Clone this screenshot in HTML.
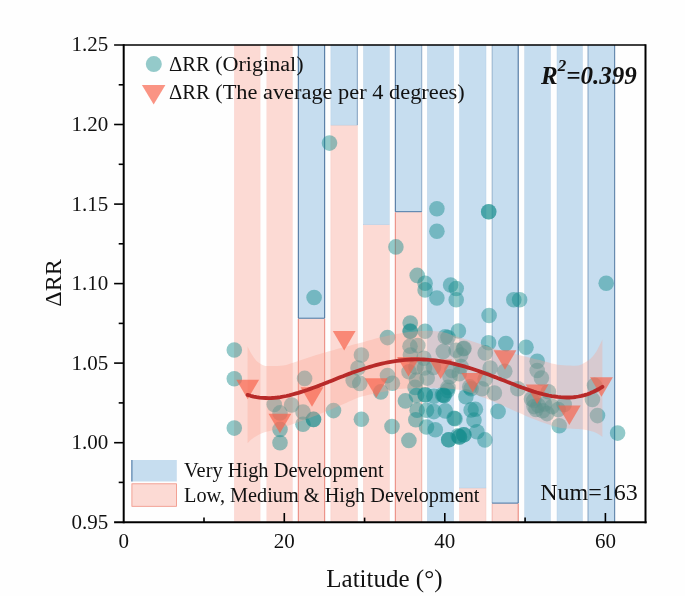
<!DOCTYPE html>
<html><head><meta charset="utf-8"><title>Latitude vs ΔRR</title>
<style>html,body{margin:0;padding:0;background:#fefefe;}svg{display:block;}</style></head>
<body>
<svg width="685" height="596" viewBox="0 0 685 596" font-family="'Liberation Serif', 'Times New Roman', serif" fill="#111">
<rect width="685" height="596" fill="#fefefe"/>
<g id="bars">
<rect x="234.3" y="45.0" width="25.8" height="477.2" fill="#fcdad4" stroke="#f5c2ba" stroke-width="0.24"/>
<rect x="266.8" y="45.0" width="25.6" height="477.2" fill="#fcdad4" stroke="#f5c2ba" stroke-width="0.24"/>
<rect x="298.3" y="318.2" width="26.4" height="204.0" fill="#fcdad4" stroke="#f5c2ba" stroke-width="0.4"/>
<rect x="298.3" y="45.0" width="26.4" height="273.2" fill="#c6ddef" stroke="#aecbe3" stroke-width="0.4"/>
<path d="M298.3,45.0 V318.2" stroke="#34608e" stroke-opacity="1.0" stroke-width="0.9" fill="none"/>
<path d="M324.7,45.0 V318.2" stroke="#34608e" stroke-opacity="1.0" stroke-width="0.9" fill="none"/>
<path d="M298.3,318.2 H324.7" stroke="#3f6f9f" stroke-opacity="1.0" stroke-width="0.9" fill="none"/>
<path d="M298.3,318.8 V522.2" stroke="#e67c6f" stroke-opacity="1.0" stroke-width="0.9" fill="none"/>
<path d="M324.7,318.8 V522.2" stroke="#e67c6f" stroke-opacity="1.0" stroke-width="0.9" fill="none"/>
<rect x="330.9" y="125.1" width="26.4" height="397.1" fill="#fcdad4" stroke="#f5c2ba" stroke-width="0.4"/>
<rect x="330.9" y="45.0" width="26.4" height="80.1" fill="#c6ddef" stroke="#aecbe3" stroke-width="0.4"/>
<rect x="363.5" y="224.8" width="25.8" height="297.4" fill="#fcdad4" stroke="#f5c2ba" stroke-width="0.4"/>
<rect x="363.5" y="45.0" width="25.8" height="179.8" fill="#c6ddef" stroke="#aecbe3" stroke-width="0.4"/>
<rect x="395.3" y="211.7" width="26.5" height="310.5" fill="#fcdad4" stroke="#f5c2ba" stroke-width="0.4"/>
<rect x="395.3" y="45.0" width="26.5" height="166.7" fill="#c6ddef" stroke="#aecbe3" stroke-width="0.4"/>
<path d="M395.3,45.0 V211.7" stroke="#34608e" stroke-opacity="1.0" stroke-width="0.9" fill="none"/>
<path d="M421.8,45.0 V211.7" stroke="#34608e" stroke-opacity="0.45" stroke-width="0.9" fill="none"/>
<path d="M395.3,211.7 H421.8" stroke="#3f6f9f" stroke-opacity="1.0" stroke-width="0.9" fill="none"/>
<path d="M395.3,212.3 V522.2" stroke="#e67c6f" stroke-opacity="1.0" stroke-width="0.9" fill="none"/>
<path d="M421.8,212.3 V522.2" stroke="#e67c6f" stroke-opacity="0.45" stroke-width="0.9" fill="none"/>
<rect x="427.4" y="45.0" width="26.2" height="477.2" fill="#c6ddef" stroke="#aecbe3" stroke-width="0.4"/>
<rect x="459.6" y="488.0" width="26.4" height="34.2" fill="#fcdad4" stroke="#f5c2ba" stroke-width="0.4"/>
<rect x="459.6" y="45.0" width="26.4" height="443.0" fill="#c6ddef" stroke="#aecbe3" stroke-width="0.4"/>
<rect x="492.1" y="503.1" width="26.1" height="19.1" fill="#fcdad4" stroke="#f5c2ba" stroke-width="0.4"/>
<rect x="492.1" y="45.0" width="26.1" height="458.1" fill="#c6ddef" stroke="#aecbe3" stroke-width="0.4"/>
<path d="M492.1,45.0 V503.1" stroke="#34608e" stroke-opacity="0.35" stroke-width="0.9" fill="none"/>
<path d="M518.2,45.0 V503.1" stroke="#34608e" stroke-opacity="1.0" stroke-width="0.9" fill="none"/>
<path d="M492.1,503.1 H518.2" stroke="#3f6f9f" stroke-opacity="1.0" stroke-width="0.9" fill="none"/>
<path d="M492.1,503.7 V522.2" stroke="#e67c6f" stroke-opacity="0.35" stroke-width="0.9" fill="none"/>
<path d="M518.2,503.7 V522.2" stroke="#e67c6f" stroke-opacity="1.0" stroke-width="0.9" fill="none"/>
<rect x="524.7" y="45.0" width="25.7" height="477.2" fill="#c6ddef" stroke="#aecbe3" stroke-width="0.4"/>
<rect x="557.0" y="45.0" width="25.4" height="477.2" fill="#c6ddef" stroke="#aecbe3" stroke-width="0.4"/>
<rect x="588.0" y="45.0" width="26.7" height="477.2" fill="#c6ddef" stroke="#aecbe3" stroke-width="0.4"/>
<path d="M588.0,45.0 V522.2" stroke="#34608e" stroke-opacity="0.5" stroke-width="0.9" fill="none"/>
<path d="M614.7,45.0 V522.2" stroke="#34608e" stroke-opacity="0.9" stroke-width="0.9" fill="none"/>
<path d="M357.3,45.0 V125.1" stroke="#2f5a88" stroke-opacity="0.6" stroke-width="0.8" fill="none"/>
</g>
<g id="dots" fill="#148c8c" fill-opacity="0.46">
<circle cx="234.3" cy="350.0" r="7.8"/>
<circle cx="234.3" cy="378.7" r="7.8"/>
<circle cx="234.3" cy="428.1" r="7.8"/>
<circle cx="274.2" cy="404.4" r="7.8"/>
<circle cx="280.0" cy="412.9" r="7.8"/>
<circle cx="291.6" cy="405.0" r="7.8"/>
<circle cx="280.0" cy="429.4" r="7.8"/>
<circle cx="280.0" cy="442.7" r="7.8"/>
<circle cx="304.6" cy="378.4" r="7.8"/>
<circle cx="303.0" cy="412.0" r="7.8"/>
<circle cx="303.0" cy="424.2" r="7.8"/>
<circle cx="313.5" cy="419.4" r="7.8"/>
<circle cx="313.5" cy="419.4" r="7.8"/>
<circle cx="333.5" cy="410.6" r="7.8"/>
<circle cx="329.5" cy="143.1" r="7.8"/>
<circle cx="314.1" cy="297.5" r="7.8"/>
<circle cx="395.9" cy="246.9" r="7.8"/>
<circle cx="436.9" cy="208.7" r="7.8"/>
<circle cx="436.9" cy="231.2" r="7.8"/>
<circle cx="488.7" cy="211.8" r="7.8"/>
<circle cx="488.7" cy="211.8" r="7.8"/>
<circle cx="606.2" cy="283.2" r="7.8"/>
<circle cx="417.2" cy="275.4" r="7.8"/>
<circle cx="425.1" cy="283.2" r="7.8"/>
<circle cx="425.1" cy="289.9" r="7.8"/>
<circle cx="436.9" cy="298.0" r="7.8"/>
<circle cx="450.6" cy="285.0" r="7.8"/>
<circle cx="456.2" cy="288.5" r="7.8"/>
<circle cx="456.2" cy="299.7" r="7.8"/>
<circle cx="513.8" cy="299.8" r="7.8"/>
<circle cx="519.6" cy="299.8" r="7.8"/>
<circle cx="489.1" cy="315.5" r="7.8"/>
<circle cx="410.2" cy="323.0" r="7.8"/>
<circle cx="410.2" cy="331.0" r="7.8"/>
<circle cx="410.2" cy="331.5" r="7.8"/>
<circle cx="425.1" cy="331.2" r="7.8"/>
<circle cx="458.4" cy="331.0" r="7.8"/>
<circle cx="445.3" cy="336.8" r="7.8"/>
<circle cx="448.0" cy="337.5" r="7.8"/>
<circle cx="387.5" cy="337.6" r="7.8"/>
<circle cx="361.4" cy="355.0" r="7.8"/>
<circle cx="358.0" cy="368.1" r="7.8"/>
<circle cx="353.2" cy="380.5" r="7.8"/>
<circle cx="359.8" cy="383.4" r="7.8"/>
<circle cx="387.5" cy="375.6" r="7.8"/>
<circle cx="392.4" cy="383.2" r="7.8"/>
<circle cx="380.8" cy="391.9" r="7.8"/>
<circle cx="361.4" cy="419.3" r="7.8"/>
<circle cx="392.0" cy="426.5" r="7.8"/>
<circle cx="405.4" cy="400.9" r="7.8"/>
<circle cx="408.9" cy="440.4" r="7.8"/>
<circle cx="410.0" cy="346.2" r="7.8"/>
<circle cx="417.8" cy="345.6" r="7.8"/>
<circle cx="410.4" cy="355.0" r="7.8"/>
<circle cx="423.9" cy="358.3" r="7.8"/>
<circle cx="443.3" cy="351.6" r="7.8"/>
<circle cx="456.1" cy="350.3" r="7.8"/>
<circle cx="464.1" cy="348.3" r="7.8"/>
<circle cx="460.8" cy="355.0" r="7.8"/>
<circle cx="416.5" cy="380.1" r="7.8"/>
<circle cx="427.2" cy="378.1" r="7.8"/>
<circle cx="415.1" cy="387.4" r="7.8"/>
<circle cx="450.0" cy="376.7" r="7.8"/>
<circle cx="448.0" cy="387.4" r="7.8"/>
<circle cx="459.2" cy="373.8" r="7.8"/>
<circle cx="416.5" cy="395.5" r="7.8"/>
<circle cx="425.2" cy="394.8" r="7.8"/>
<circle cx="425.2" cy="394.8" r="7.8"/>
<circle cx="433.9" cy="396.2" r="7.8"/>
<circle cx="444.0" cy="395.5" r="7.8"/>
<circle cx="444.0" cy="395.5" r="7.8"/>
<circle cx="417.1" cy="410.3" r="7.8"/>
<circle cx="415.8" cy="419.7" r="7.8"/>
<circle cx="426.5" cy="410.3" r="7.8"/>
<circle cx="433.9" cy="411.6" r="7.8"/>
<circle cx="445.3" cy="410.9" r="7.8"/>
<circle cx="426.5" cy="427.0" r="7.8"/>
<circle cx="435.3" cy="429.7" r="7.8"/>
<circle cx="454.1" cy="418.3" r="7.8"/>
<circle cx="448.7" cy="439.8" r="7.8"/>
<circle cx="448.7" cy="439.8" r="7.8"/>
<circle cx="458.1" cy="435.8" r="7.8"/>
<circle cx="465.9" cy="396.8" r="7.8"/>
<circle cx="471.1" cy="409.9" r="7.8"/>
<circle cx="475.4" cy="409.2" r="7.8"/>
<circle cx="474.0" cy="420.1" r="7.8"/>
<circle cx="476.9" cy="431.8" r="7.8"/>
<circle cx="484.9" cy="439.9" r="7.8"/>
<circle cx="463.8" cy="434.7" r="7.8"/>
<circle cx="463.8" cy="434.7" r="7.8"/>
<circle cx="459.4" cy="436.9" r="7.8"/>
<circle cx="459.4" cy="436.9" r="7.8"/>
<circle cx="455.0" cy="418.7" r="7.8"/>
<circle cx="498.1" cy="411.4" r="7.8"/>
<circle cx="494.4" cy="393.1" r="7.8"/>
<circle cx="482.0" cy="388.8" r="7.8"/>
<circle cx="471.1" cy="388.8" r="7.8"/>
<circle cx="517.8" cy="388.8" r="7.8"/>
<circle cx="488.6" cy="342.8" r="7.8"/>
<circle cx="505.8" cy="343.6" r="7.8"/>
<circle cx="485.2" cy="352.9" r="7.8"/>
<circle cx="526.0" cy="347.3" r="7.8"/>
<circle cx="537.2" cy="361.2" r="7.8"/>
<circle cx="537.2" cy="370.5" r="7.8"/>
<circle cx="541.4" cy="378.0" r="7.8"/>
<circle cx="504.8" cy="371.3" r="7.8"/>
<circle cx="490.2" cy="368.0" r="7.8"/>
<circle cx="463.4" cy="348.7" r="7.8"/>
<circle cx="485.2" cy="378.9" r="7.8"/>
<circle cx="533.8" cy="400.4" r="7.8"/>
<circle cx="538.2" cy="405.5" r="7.8"/>
<circle cx="542.6" cy="410.7" r="7.8"/>
<circle cx="547.0" cy="413.6" r="7.8"/>
<circle cx="559.2" cy="425.7" r="7.8"/>
<circle cx="548.4" cy="391.7" r="7.8"/>
<circle cx="552.2" cy="406.6" r="7.8"/>
<circle cx="558.2" cy="409.6" r="7.8"/>
<circle cx="564.2" cy="404.5" r="7.8"/>
<circle cx="534.0" cy="406.6" r="7.8"/>
<circle cx="617.6" cy="433.1" r="7.8"/>
<circle cx="597.5" cy="415.6" r="7.8"/>
<circle cx="592.4" cy="399.5" r="7.8"/>
<circle cx="594.5" cy="385.4" r="7.8"/>
<circle cx="409.0" cy="371.7" r="7.8"/>
<circle cx="416.0" cy="367.0" r="7.8"/>
<circle cx="424.5" cy="368.0" r="7.8"/>
<circle cx="433.5" cy="367.5" r="7.8"/>
<circle cx="452.0" cy="370.5" r="7.8"/>
<circle cx="461.0" cy="366.5" r="7.8"/>
<circle cx="469.7" cy="386.9" r="7.8"/>
<circle cx="531.5" cy="399.0" r="7.8"/>
<circle cx="536.0" cy="409.5" r="7.8"/>
<circle cx="544.5" cy="404.0" r="7.8"/>
<circle cx="447.6" cy="390.4" r="7.8"/>
<circle cx="442.5" cy="394.8" r="7.8"/>
</g>
<path d="M247.6,346.5 L250.6,352.4 L253.6,357.2 L256.5,361.0 L259.5,363.3 L262.5,365.0 L265.5,366.0 L268.5,366.1 L271.5,366.0 L274.4,366.0 L277.4,365.9 L280.4,365.7 L283.4,365.5 L286.4,364.9 L289.3,364.0 L292.3,363.0 L295.3,361.9 L298.3,360.9 L301.3,359.9 L304.2,359.0 L307.2,358.0 L310.2,357.1 L313.2,356.1 L316.2,355.1 L319.2,354.2 L322.1,353.3 L325.1,352.4 L328.1,351.6 L331.1,350.7 L334.1,349.9 L337.0,349.1 L340.0,348.3 L343.0,347.5 L346.0,346.7 L349.0,345.9 L352.0,345.1 L354.9,344.3 L357.9,343.5 L360.9,342.7 L363.9,341.9 L366.9,341.0 L369.8,340.2 L372.8,339.4 L375.8,338.6 L378.8,337.8 L381.8,337.1 L384.7,336.4 L387.7,335.7 L390.7,335.0 L393.7,334.4 L396.7,333.9 L399.7,333.4 L402.6,332.9 L405.6,332.5 L408.6,332.1 L411.6,331.9 L414.6,331.6 L417.5,331.3 L420.5,331.1 L423.5,330.9 L426.5,330.8 L429.5,330.8 L432.5,330.9 L435.4,331.2 L438.4,331.4 L441.4,331.8 L444.4,332.4 L447.4,333.3 L450.3,334.4 L453.3,335.5 L456.3,336.5 L459.3,337.4 L462.3,338.3 L465.3,339.2 L468.2,340.1 L471.2,341.0 L474.2,341.9 L477.2,342.9 L480.2,344.0 L483.1,345.1 L486.1,346.1 L489.1,347.1 L492.1,348.0 L495.1,348.9 L498.0,349.7 L501.0,350.5 L504.0,351.2 L507.0,352.0 L510.0,352.7 L513.0,353.4 L515.9,354.2 L518.9,354.9 L521.9,355.7 L524.9,356.5 L527.9,357.2 L530.8,357.9 L533.8,358.7 L536.8,359.4 L539.8,360.1 L542.8,360.9 L545.8,361.7 L548.7,362.5 L551.7,363.4 L554.7,364.1 L557.7,364.7 L560.7,365.1 L563.6,365.3 L566.6,365.5 L569.6,365.6 L572.6,365.7 L575.6,365.7 L578.5,365.4 L581.5,364.4 L584.5,362.8 L587.5,361.0 L590.5,358.8 L593.5,355.5 L596.4,351.5 L599.4,345.8 L602.4,339.5 L602.4,436.8 L599.4,434.7 L596.4,433.0 L593.5,431.8 L590.5,430.9 L587.5,430.2 L584.5,429.7 L581.5,429.3 L578.5,429.1 L575.6,428.9 L572.6,428.7 L569.6,428.6 L566.6,428.4 L563.6,428.2 L560.7,427.9 L557.7,427.3 L554.7,426.5 L551.7,425.6 L548.7,424.6 L545.8,423.5 L542.8,422.4 L539.8,421.4 L536.8,420.3 L533.8,419.1 L530.8,417.9 L527.9,416.7 L524.9,415.4 L521.9,414.1 L518.9,412.8 L515.9,411.5 L513.0,410.2 L510.0,408.8 L507.0,407.4 L504.0,406.1 L501.0,404.8 L498.0,403.5 L495.1,402.2 L492.1,401.0 L489.1,399.8 L486.1,398.6 L483.1,397.4 L480.2,396.4 L477.2,395.3 L474.2,394.2 L471.2,393.1 L468.2,392.0 L465.3,391.1 L462.3,390.3 L459.3,389.7 L456.3,389.4 L453.3,389.1 L450.3,388.8 L447.4,388.5 L444.4,388.3 L441.4,388.1 L438.4,388.0 L435.4,387.8 L432.5,387.8 L429.5,387.7 L426.5,387.7 L423.5,387.7 L420.5,387.8 L417.5,387.9 L414.6,388.1 L411.6,388.2 L408.6,388.4 L405.6,388.6 L402.6,388.8 L399.7,389.0 L396.7,389.3 L393.7,389.8 L390.7,390.3 L387.7,390.9 L384.7,391.5 L381.8,392.1 L378.8,392.7 L375.8,393.3 L372.8,393.9 L369.8,394.5 L366.9,395.2 L363.9,396.0 L360.9,396.8 L357.9,397.8 L354.9,399.0 L352.0,400.2 L349.0,401.5 L346.0,402.9 L343.0,404.2 L340.0,405.4 L337.0,406.7 L334.1,408.0 L331.1,409.4 L328.1,410.6 L325.1,411.9 L322.1,413.1 L319.2,414.3 L316.2,415.4 L313.2,416.6 L310.2,417.7 L307.2,418.8 L304.2,419.9 L301.3,421.0 L298.3,422.1 L295.3,423.2 L292.3,424.2 L289.3,425.2 L286.4,426.3 L283.4,427.2 L280.4,428.2 L277.4,429.0 L274.4,429.7 L271.5,430.5 L268.5,431.2 L265.5,432.1 L262.5,433.1 L259.5,434.3 L256.5,435.9 L253.6,437.7 L250.6,439.9 L247.6,443.2Z" fill="#fca390" fill-opacity="0.32"/>
<g id="tri" fill="#f8624a" fill-opacity="0.68">
<path d="M236.3,379.8 L259.1,379.8 L247.7,399.3Z"/>
<path d="M268.5,413.7 L291.3,413.7 L279.9,433.2Z"/>
<path d="M300.6,387.2 L323.4,387.2 L312.0,406.7Z"/>
<path d="M332.8,331.0 L355.6,331.0 L344.2,350.5Z"/>
<path d="M364.9,378.3 L387.7,378.3 L376.3,397.8Z"/>
<path d="M397.1,357.0 L419.9,357.0 L408.5,376.5Z"/>
<path d="M429.3,359.5 L452.1,359.5 L440.7,379.0Z"/>
<path d="M461.4,373.0 L484.2,373.0 L472.8,392.5Z"/>
<path d="M493.6,350.3 L516.4,350.3 L505.0,369.8Z"/>
<path d="M525.7,384.5 L548.5,384.5 L537.1,404.0Z"/>
<path d="M557.9,405.5 L580.7,405.5 L569.3,425.0Z"/>
<path d="M590.1,377.3 L612.9,377.3 L601.5,396.8Z"/>
</g>
<path d="M247.6,394.9 L250.6,395.8 L253.6,396.6 L256.5,397.2 L259.5,397.6 L262.5,397.9 L265.5,398.0 L268.5,398.1 L271.5,398.0 L274.4,397.8 L277.4,397.5 L280.4,397.1 L283.4,396.5 L286.4,396.0 L289.3,395.3 L292.3,394.5 L295.3,393.7 L298.3,392.9 L301.3,391.9 L304.2,391.0 L307.2,390.0 L310.2,388.9 L313.2,387.8 L316.2,386.7 L319.2,385.6 L322.1,384.4 L325.1,383.2 L328.1,382.1 L331.1,380.9 L334.1,379.7 L337.0,378.5 L340.0,377.3 L343.0,376.2 L346.0,375.0 L349.0,373.9 L352.0,372.8 L354.9,371.7 L357.9,370.7 L360.9,369.7 L363.9,368.7 L366.9,367.8 L369.8,366.9 L372.8,366.0 L375.8,365.2 L378.8,364.4 L381.8,363.7 L384.7,363.0 L387.7,362.4 L390.7,361.8 L393.7,361.3 L396.7,360.9 L399.7,360.5 L402.6,360.2 L405.6,359.9 L408.6,359.7 L411.6,359.5 L414.6,359.4 L417.5,359.4 L420.5,359.4 L423.5,359.5 L426.5,359.6 L429.5,359.9 L432.5,360.1 L435.4,360.4 L438.4,360.8 L441.4,361.3 L444.4,361.8 L447.4,362.3 L450.3,362.9 L453.3,363.6 L456.3,364.3 L459.3,365.1 L462.3,365.9 L465.3,366.7 L468.2,367.6 L471.2,368.5 L474.2,369.5 L477.2,370.5 L480.2,371.6 L483.1,372.6 L486.1,373.7 L489.1,374.8 L492.1,376.0 L495.1,377.1 L498.0,378.3 L501.0,379.4 L504.0,380.6 L507.0,381.8 L510.0,382.9 L513.0,384.1 L515.9,385.2 L518.9,386.4 L521.9,387.5 L524.9,388.5 L527.9,389.6 L530.8,390.6 L533.8,391.6 L536.8,392.5 L539.8,393.3 L542.8,394.1 L545.8,394.8 L548.7,395.5 L551.7,396.1 L554.7,396.5 L557.7,396.9 L560.7,397.2 L563.6,397.4 L566.6,397.5 L569.6,397.5 L572.6,397.3 L575.6,397.0 L578.5,396.5 L581.5,395.9 L584.5,395.1 L587.5,394.2 L590.5,393.1 L593.5,391.8 L596.4,390.3 L599.4,388.7 L602.4,386.8" fill="none" stroke="#b82a29" stroke-width="3.8" stroke-linecap="round" stroke-linejoin="round"/>
<circle cx="153.8" cy="64.1" r="8" fill="#148c8c" fill-opacity="0.45"/>
<path d="M141.9,85.1 L165.4,85.1 L153.65,104.6Z" fill="#f8624a" fill-opacity="0.68"/>
<text y="71.4" font-size="20"><tspan x="168.9" textLength="40.8" lengthAdjust="spacingAndGlyphs">ΔRR</tspan> <tspan x="215.2" textLength="88.4" lengthAdjust="spacingAndGlyphs">(Original)</tspan></text>
<text y="99.2" font-size="20"><tspan x="168.9" textLength="40.8" lengthAdjust="spacingAndGlyphs">ΔRR</tspan> <tspan x="215.2" textLength="249.6" lengthAdjust="spacingAndGlyphs">(The average per 4 degrees)</tspan></text>
<rect x="131.6" y="460" width="45.2" height="21.5" fill="#c6ddef"/><path d="M131.9,460 V481.5" stroke="#3f6f9f" stroke-width="1"/>
<rect x="131.9" y="483.8" width="44.7" height="22.5" fill="#fcdad4" stroke="#ef8f80" stroke-width="0.8"/>
<text x="184.1" y="477.1" font-size="20" textLength="199.5" lengthAdjust="spacingAndGlyphs">Very High Development</text>
<text x="184.1" y="501.8" font-size="20" textLength="295.4" lengthAdjust="spacingAndGlyphs">Low, Medium &amp; High Development</text>
<text x="540.2" y="499.5" font-size="24">Num=163</text>
<text x="541" y="83.6" font-size="25" font-weight="bold" font-style="italic">R<tspan font-size="17" dy="-12.5">2</tspan><tspan dy="12.5">=0.399</tspan></text>
<g stroke="#000" fill="none">
<path d="M114.10000000000001,45.0 H645.5" stroke-width="1.3"/>
<path d="M123.7,44.3 V523.3000000000001" stroke-width="2.0"/>
<path d="M645.5,44.3 V523.3000000000001" stroke-width="2.0"/>
<path d="M114.10000000000001,522.2 H646.6" stroke-width="2.0"/>
<path d="M118.7,482.4 H123.7" stroke-width="1.6"/>
<path d="M114.1,442.7 H123.7" stroke-width="1.6"/>
<path d="M118.7,402.9 H123.7" stroke-width="1.6"/>
<path d="M114.1,363.1 H123.7" stroke-width="1.6"/>
<path d="M118.7,323.4 H123.7" stroke-width="1.6"/>
<path d="M114.1,283.6 H123.7" stroke-width="1.6"/>
<path d="M118.7,243.8 H123.7" stroke-width="1.6"/>
<path d="M114.1,204.1 H123.7" stroke-width="1.6"/>
<path d="M118.7,164.3 H123.7" stroke-width="1.6"/>
<path d="M114.1,124.5 H123.7" stroke-width="1.6"/>
<path d="M118.7,84.8 H123.7" stroke-width="1.6"/>
<path d="M204.0,522.2 V517.6" stroke-width="1.6"/>
<path d="M284.3,522.2 V513.0" stroke-width="1.6"/>
<path d="M364.6,522.2 V517.6" stroke-width="1.6"/>
<path d="M444.8,522.2 V513.0" stroke-width="1.6"/>
<path d="M525.1,522.2 V517.6" stroke-width="1.6"/>
<path d="M605.4,522.2 V513.0" stroke-width="1.6"/>
</g>
<g font-size="21" text-anchor="end">
<text x="108.3" y="528.6">0.95</text>
<text x="108.3" y="449.1">1.00</text>
<text x="108.3" y="369.5">1.05</text>
<text x="108.3" y="290.0">1.10</text>
<text x="108.3" y="210.5">1.15</text>
<text x="108.3" y="130.9">1.20</text>
<text x="108.3" y="51.4">1.25</text>
</g>
<g font-size="21" text-anchor="middle">
<text x="123.7" y="548">0</text>
<text x="284.3" y="548">20</text>
<text x="444.8" y="548">40</text>
<text x="605.4" y="548">60</text>
</g>
<text x="384.4" y="587.3" font-size="25" text-anchor="middle">Latitude (°)</text>
<text transform="translate(61.1,283) rotate(-90)" font-size="24" text-anchor="middle">ΔRR</text>
</svg>
</body></html>
